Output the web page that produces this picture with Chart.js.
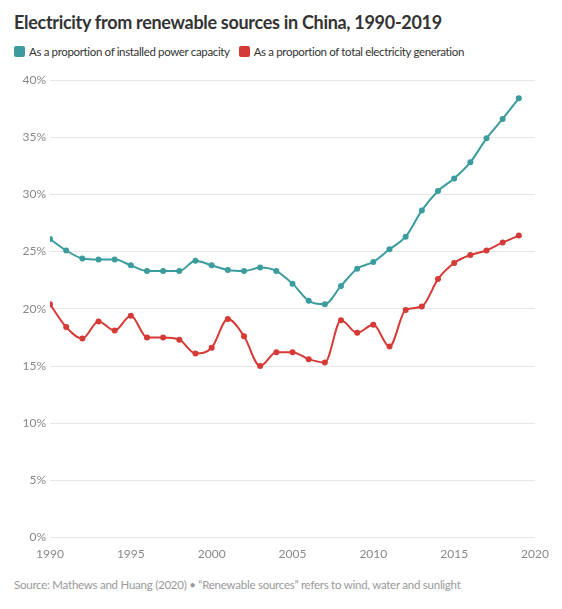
<!DOCTYPE html>
<html>
<head>
<meta charset="utf-8">
<script src="https://cdn.jsdelivr.net/npm/chart.js@4"></script>
<style>
  html, body { margin: 0; padding: 0; background: #fff; }
  body { width: 562px; height: 609px; position: relative; font-family: Lato, "Noto Sans", sans-serif; overflow: hidden; }
  #title { position: absolute; left: 14px; top: 11px; font-size: 18px; letter-spacing: -0.3px; font-weight: 700; color: #333; white-space: nowrap; }
  #legend { position: absolute; left: 14px; top: 45px; font-size: 11.5px; letter-spacing: -0.35px; color: #333; white-space: nowrap; }
  #legend span.item { margin-right: 9px; }
  #legend i { display: inline-block; width: 11px; height: 11px; border-radius: 2px; vertical-align: -1px; margin-right: 4px; }
  #source { position: absolute; left: 14px; top: 578px; font-size: 11.5px; letter-spacing: -0.25px; color: #999; white-space: nowrap; }
  #wrap { position: absolute; left: 0; top: 64px; width: 562px; height: 498px; }
</style>
</head>
<body>
<div id="title">Electricity from renewable sources in China, 1990-2019</div>
<div id="legend"></div>
<div id="source">Source: Mathews and Huang (2020) • “Renewable sources” refers to wind, water and sunlight</div>
<div id="wrap"><canvas id="chart"></canvas></div>
<script>
// years on the x axis
const years = [1990, 1991, 1992, 1993, 1994, 1995, 1996, 1997, 1998, 1999,
  2000, 2001, 2002, 2003, 2004, 2005, 2006, 2007, 2008, 2009,
  2010, 2011, 2012, 2013, 2014, 2015, 2016, 2017, 2018, 2019];

// renewables as % of installed power capacity
const capacityShare = [26.1, 25.1, 24.4, 24.3, 24.3, 23.8, 23.3, 23.3, 23.3, 24.2,
  23.8, 23.4, 23.3, 23.6, 23.3, 22.2, 20.7, 20.4, 22.0, 23.5,
  24.1, 25.2, 26.3, 28.6, 30.3, 31.4, 32.8, 34.9, 36.6, 38.4];

// renewables as % of total electricity generation
const generationShare = [20.4, 18.4, 17.4, 18.9, 18.1, 19.4, 17.5, 17.5, 17.3, 16.1,
  16.6, 19.1, 17.6, 15.0, 16.2, 16.2, 15.6, 15.3, 19.0, 17.9,
  18.6, 16.7, 19.9, 20.2, 22.6, 24.0, 24.7, 25.1, 25.8, 26.4];

const seriesNames = ["As a proportion of installed power capacity", "As a proportion of total electricity generation"];
const seriesColors = ["#3c9c9d", "#d63a36"];

const yTicks = [0, 5, 10, 15, 20, 25, 30, 35, 40];
const xTicks = [1990, 1995, 2000, 2005, 2010, 2015, 2020];

// html legend
const legend = document.getElementById("legend");
seriesNames.forEach((name, i) => {
  const item = document.createElement("span");
  item.className = "item";
  item.innerHTML = `<i style="background:${seriesColors[i]}"></i>${name}`;
  legend.appendChild(item);
});

function toPoints(values) {
  return values.map((v, i) => ({ x: years[i], y: v }));
}

const tickStyle = { color: "#888", font: { family: "Lato", size: 12 } };

new Chart(document.getElementById("chart"), {
  type: "line",
  data: {
    datasets: [
      { label: seriesNames[0], data: toPoints(capacityShare), borderColor: seriesColors[0], backgroundColor: seriesColors[0] },
      { label: seriesNames[1], data: toPoints(generationShare), borderColor: seriesColors[1], backgroundColor: seriesColors[1] },
    ],
  },
  options: {
    responsive: true,
    maintainAspectRatio: false,
    animation: false,
    layout: { padding: { top: 16, right: 27, left: 0, bottom: 0 } },
    elements: {
      line: { borderWidth: 2, cubicInterpolationMode: "monotone" },
      point: { radius: 3, borderWidth: 0, hoverRadius: 4 },
    },
    plugins: {
      legend: { display: false },
      tooltip: { enabled: true },
    },
    scales: {
      x: {
        type: "linear",
        min: 1990,
        max: 2020,
        afterBuildTicks: (axis) => { axis.ticks = xTicks.map((v) => ({ value: v })); },
        ticks: { ...tickStyle, padding: 1, maxRotation: 0, callback: (v) => String(v) },
        grid: { display: false },
        border: { display: false },
      },
      y: {
        min: 0,
        max: 40,
        afterBuildTicks: (axis) => { axis.ticks = yTicks.map((v) => ({ value: v })); },
        afterFit: (axis) => { axis.width = 50; },
        ticks: { ...tickStyle, padding: 4, callback: (v) => v + "%" },
        grid: { color: "#e6e6e6", drawTicks: false },
        border: { display: false },
      },
    },
  },
});
</script>
</body>
</html>
